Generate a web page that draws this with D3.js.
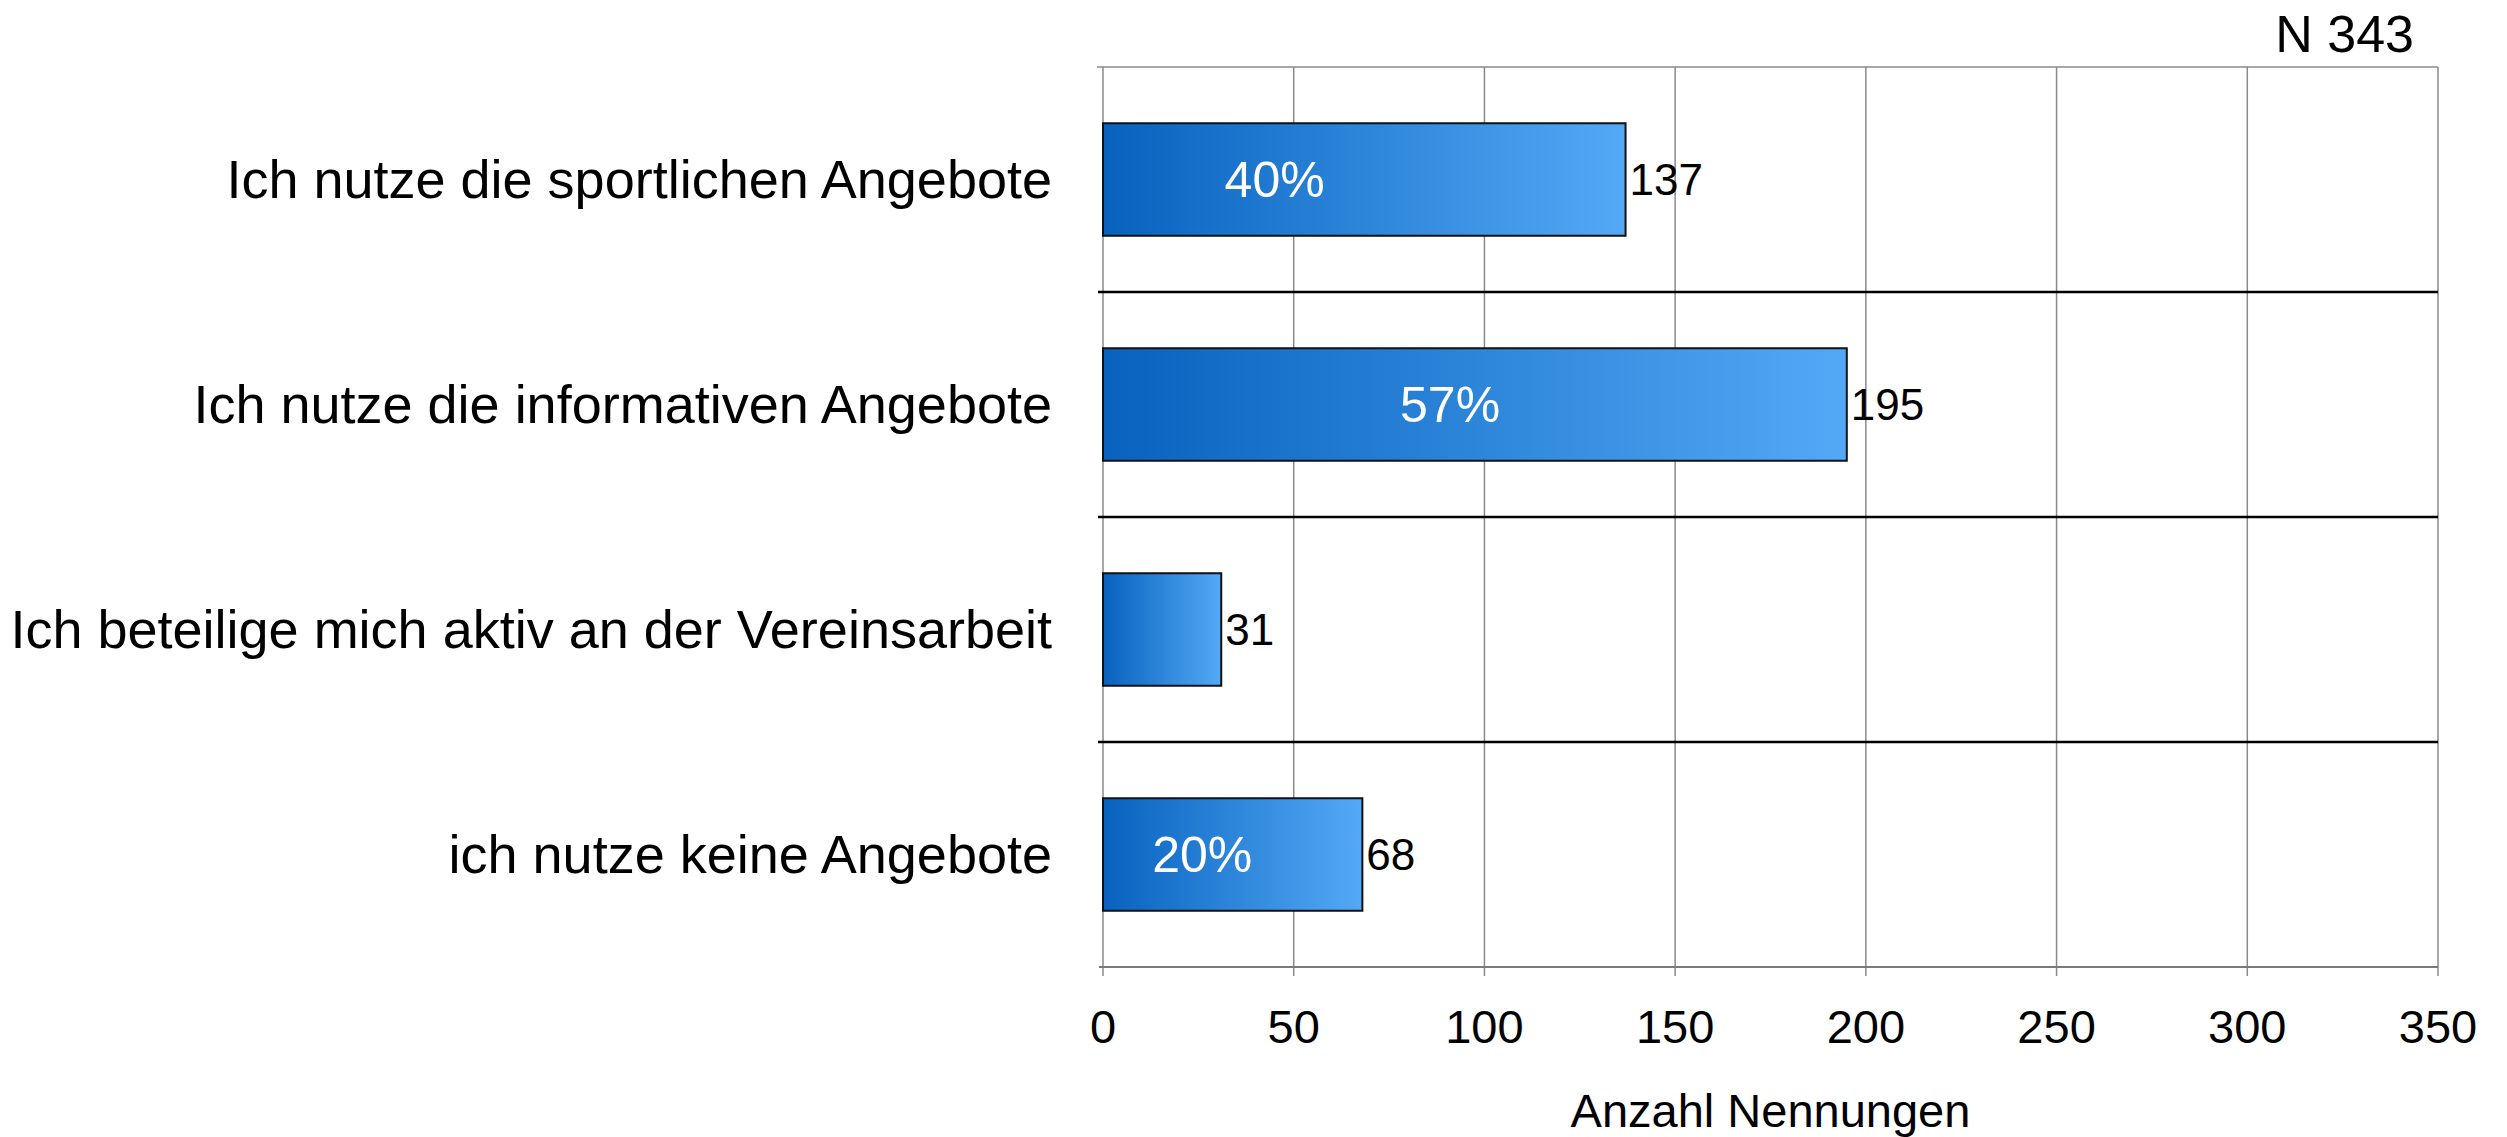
<!DOCTYPE html>
<html>
<head>
<meta charset="utf-8">
<script src="https://cdn.jsdelivr.net/npm/d3@7"></script>
<style>
  body { margin: 0; background: #fff; }
  text { font-family: 'Liberation Sans', Arial, Helvetica, sans-serif; }
</style>
</head>
<body>
<div id="chart"></div>
<script>
let categories = [
  'Ich nutze die sportlichen Angebote',
  'Ich nutze die informativen Angebote',
  'Ich beteilige mich aktiv an der Vereinsarbeit',
  'ich nutze keine Angebote'
]
let counts = [137, 195, 31, 68]
let percents = ['40%', '57%', '', '20%']
// where the percent label sits, in axis units
let percentAt = [45, 91, 0, 26]
let xTicks = [0, 50, 100, 150, 200, 250, 300, 350]
let totalLabel = 'N 343'
let axisTitle = 'Anzahl Nennungen'

let width = 2507
let height = 1137
let margin = { top: 67, right: 69, bottom: 170, left: 1103 }

let svg = d3.select('#chart').append('svg')
    .attr('width', width)
    .attr('height', height)

let grad = svg.append('defs').append('linearGradient')
    .attr('id', 'barGrad')
    .attr('x1', '0%').attr('x2', '100%').attr('y1', '0%').attr('y2', '0%')
grad.append('stop').attr('offset', '0%').attr('stop-color', '#0862be')
grad.append('stop').attr('offset', '100%').attr('stop-color', '#53a9f6')

let x = d3.scaleLinear()
    .domain([0, 350])
    .range([margin.left, width - margin.right])

let y = d3.scaleBand()
    .domain(categories)
    .range([margin.top, height - margin.bottom])
    .paddingInner(0)

let plotBottom = height - margin.bottom

// vertical grid lines with ticks below
svg.append('g').selectAll('line')
    .data(xTicks)
    .enter().append('line')
      .attr('x1', (d) => x(d))
      .attr('x2', (d) => x(d))
      .attr('y1', margin.top)
      .attr('y2', plotBottom + 9)
      .attr('stroke', '#8a8a8a')
      .attr('stroke-width', 1.5)

// top frame line
svg.append('line')
    .attr('x1', x(0) - 6).attr('x2', x(350))
    .attr('y1', margin.top).attr('y2', margin.top)
    .attr('stroke', '#8a8a8a').attr('stroke-width', 1.5)

// bottom axis line
svg.append('line')
    .attr('x1', x(0) - 4).attr('x2', x(350))
    .attr('y1', plotBottom).attr('y2', plotBottom)
    .attr('stroke', '#7a7a7a').attr('stroke-width', 2)

// row separators
svg.append('g').selectAll('line')
    .data(categories.slice(1))
    .enter().append('line')
      .attr('x1', x(0) - 5)
      .attr('x2', x(350))
      .attr('y1', (d) => y(d))
      .attr('y2', (d) => y(d))
      .attr('stroke', '#000')
      .attr('stroke-width', 2.5)

let barH = y.bandwidth() * 0.5

svg.append('g').selectAll('rect')
    .data(counts)
    .enter().append('rect')
      .attr('x', x(0))
      .attr('y', (d, i) => y(categories[i]) + (y.bandwidth() - barH) / 2)
      .attr('width', (d) => x(d) - x(0))
      .attr('height', barH)
      .attr('fill', 'url(#barGrad)')
      .attr('stroke', '#111')
      .attr('stroke-width', 2)

// value labels
svg.append('g').selectAll('text')
    .data(counts)
    .enter().append('text')
      .attr('x', (d) => x(d) + 4)
      .attr('y', (d, i) => y(categories[i]) + y.bandwidth() / 2)
      .attr('dy', '0.35em')
      .attr('font-size', 44)
      .attr('fill', '#000')
      .text((d) => d)

// percent labels
svg.append('g').selectAll('text')
    .data(percents)
    .enter().append('text')
      .attr('x', (d, i) => x(percentAt[i]))
      .attr('y', (d, i) => y(categories[i]) + y.bandwidth() / 2)
      .attr('dy', '0.35em')
      .attr('text-anchor', 'middle')
      .attr('font-size', 50)
      .attr('fill', '#fff')
      .text((d) => d)

// category labels
svg.append('g').selectAll('text')
    .data(categories)
    .enter().append('text')
      .attr('x', 1052)
      .attr('y', (d) => y(d) + y.bandwidth() / 2)
      .attr('dy', '0.35em')
      .attr('text-anchor', 'end')
      .attr('font-size', 54)
      .attr('fill', '#000')
      .text((d) => d)

// tick labels
svg.append('g').selectAll('text')
    .data(xTicks)
    .enter().append('text')
      .attr('x', (d) => x(d))
      .attr('y', plotBottom + 60)
      .attr('dy', '0.35em')
      .attr('text-anchor', 'middle')
      .attr('font-size', 47)
      .attr('fill', '#000')
      .text((d) => d)

svg.append('text')
    .attr('x', (x(0) + x(350)) / 2)
    .attr('y', 1111)
    .attr('dy', '0.35em')
    .attr('text-anchor', 'middle')
    .attr('font-size', 47)
    .text(axisTitle)

svg.append('text')
    .attr('x', 2414)
    .attr('y', 34)
    .attr('dy', '0.35em')
    .attr('text-anchor', 'end')
    .attr('font-size', 52)
    .text(totalLabel)
</script>
</body>
</html>
